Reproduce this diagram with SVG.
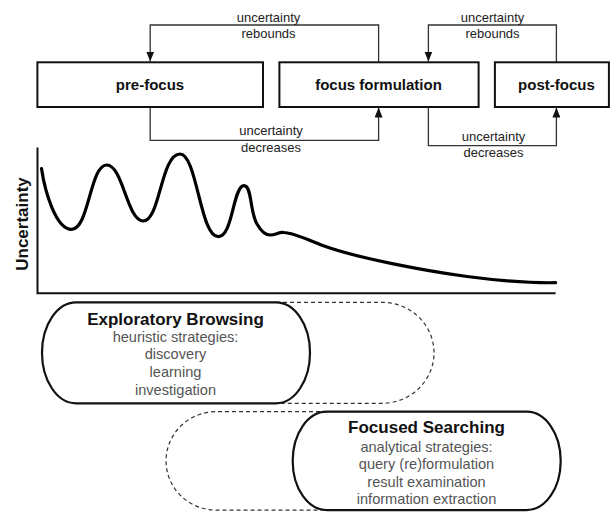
<svg xmlns="http://www.w3.org/2000/svg" width="610" height="512" viewBox="0 0 610 512">
<style>
  .box { fill: #fff; stroke: #111; stroke-width: 2; }
  .boxlabel { font-family: "Liberation Sans", Arial, sans-serif; font-weight: bold; font-size: 15px; fill: #111; text-anchor: middle; }
  .conn { fill: none; stroke: #333; stroke-width: 1.3; }
  .clabel { font-family: "Liberation Sans", Arial, sans-serif; font-size: 13px; fill: #222; text-anchor: middle; }
  .axis { fill: none; stroke: #111; stroke-width: 2; }
  .curve { fill: none; stroke: #000; stroke-width: 3.2; stroke-linecap: round; stroke-linejoin: round; }
  .pill { fill: none; stroke: #111; stroke-width: 2.2; }
  .dash { fill: none; stroke: #333; stroke-width: 1.2; stroke-dasharray: 4 3; }
  .ptitle { font-family: "Liberation Sans", Arial, sans-serif; font-weight: bold; font-size: 17px; fill: #111; text-anchor: middle; }
  .psub { font-family: "Liberation Sans", Arial, sans-serif; font-size: 14.6px; fill: #555; text-anchor: middle; }
</style>
<defs>
  <marker id="arrow" markerUnits="userSpaceOnUse" markerWidth="10" markerHeight="8" refX="10" refY="4" orient="auto">
    <path d="M0,0 L10,4 L0,8 z" fill="#111"/>
  </marker>
</defs>
<rect width="610" height="512" fill="#fff"/>

<g id="connectors">
  <path class="conn" d="M378.6,62 V25 H150.2 V61.5" marker-end="url(#arrow)"/>
  <path class="conn" d="M150.2,107 V140.3 H378.6 V107.5" marker-end="url(#arrow)"/>
  <path class="conn" d="M556.4,62 V25 H428.4 V61.5" marker-end="url(#arrow)"/>
  <path class="conn" d="M428.4,107 V145.7 H556.4 V107.5" marker-end="url(#arrow)"/>
  <text class="clabel" x="268.5" y="22">uncertainty</text>
  <text class="clabel" x="268.5" y="37.5">rebounds</text>
  <text class="clabel" x="271" y="135">uncertainty</text>
  <text class="clabel" x="271" y="151.5">decreases</text>
  <text class="clabel" x="492.5" y="22">uncertainty</text>
  <text class="clabel" x="492.5" y="37.5">rebounds</text>
  <text class="clabel" x="493.5" y="141">uncertainty</text>
  <text class="clabel" x="493.5" y="157">decreases</text>
</g>

<g id="pre-focus">
  <rect class="box" x="37.4" y="62.3" width="225.6" height="44.7"/>
  <text class="boxlabel" x="150" y="90">pre-focus</text>
</g>
<g id="focus-formulation">
  <rect class="box" x="279.4" y="62.3" width="199.2" height="44.7"/>
  <text class="boxlabel" x="378.5" y="90">focus formulation</text>
</g>
<g id="post-focus">
  <rect class="box" x="494.9" y="62.3" width="114" height="44.7"/>
  <text class="boxlabel" x="556.4" y="90">post-focus</text>
</g>

<g id="chart">
  <path class="axis" d="M37.5,147.5 V293.3 H555.6"/>
  <text font-family="Liberation Sans, Arial, sans-serif" font-weight="bold" font-size="17" fill="#111" text-anchor="middle" transform="translate(28,224) rotate(-90)">Uncertainty</text>
  <path class="curve" d="M41.5,168.5 C45,192 56,229.5 71.7,229.3 C89,229 90,165 106.7,165 C123,165 127,221 143.3,221 C160,221 161,154 180,154 C197,154 200,236.7 218.3,236.7 C233,236.7 233,185.7 244,185.7 C252,185.7 250,213 257,224 C261,231 265,235 270,235 C276,235 278,232 284,232.5 C295,233 310,241 330,248 C360,258 420,270 467,276.5 C505,281.5 535,283 555.6,282.7"/>
</g>

<g id="exploratory-browsing">
  <path class="dash" d="M276,302.3 H382 A52,50.5 0 0 1 382,403.3 H276"/>
  <rect class="pill" x="42" y="302.3" width="268" height="101" rx="34" ry="50.5"/>
  <text class="ptitle" x="175.5" y="324.5">Exploratory Browsing</text>
  <text class="psub" x="175.5" y="341.7">heuristic strategies:</text>
  <text class="psub" x="175.5" y="359.3">discovery</text>
  <text class="psub" x="175.5" y="377">learning</text>
  <text class="psub" x="175.5" y="394.7">investigation</text>
</g>

<g id="focused-searching">
  <path class="dash" d="M327,411.7 H216 A50,49.2 0 0 0 216,510.1 H327"/>
  <rect class="pill" x="292.7" y="411.7" width="268" height="98.4" rx="34" ry="49.2"/>
  <text class="ptitle" x="426.5" y="433.3">Focused Searching</text>
  <text class="psub" x="426.5" y="451.7">analytical strategies:</text>
  <text class="psub" x="426.5" y="469.2">query (re)formulation</text>
  <text class="psub" x="426.5" y="486.7">result examination</text>
  <text class="psub" x="426.5" y="504">information extraction</text>
</g>
</svg>
